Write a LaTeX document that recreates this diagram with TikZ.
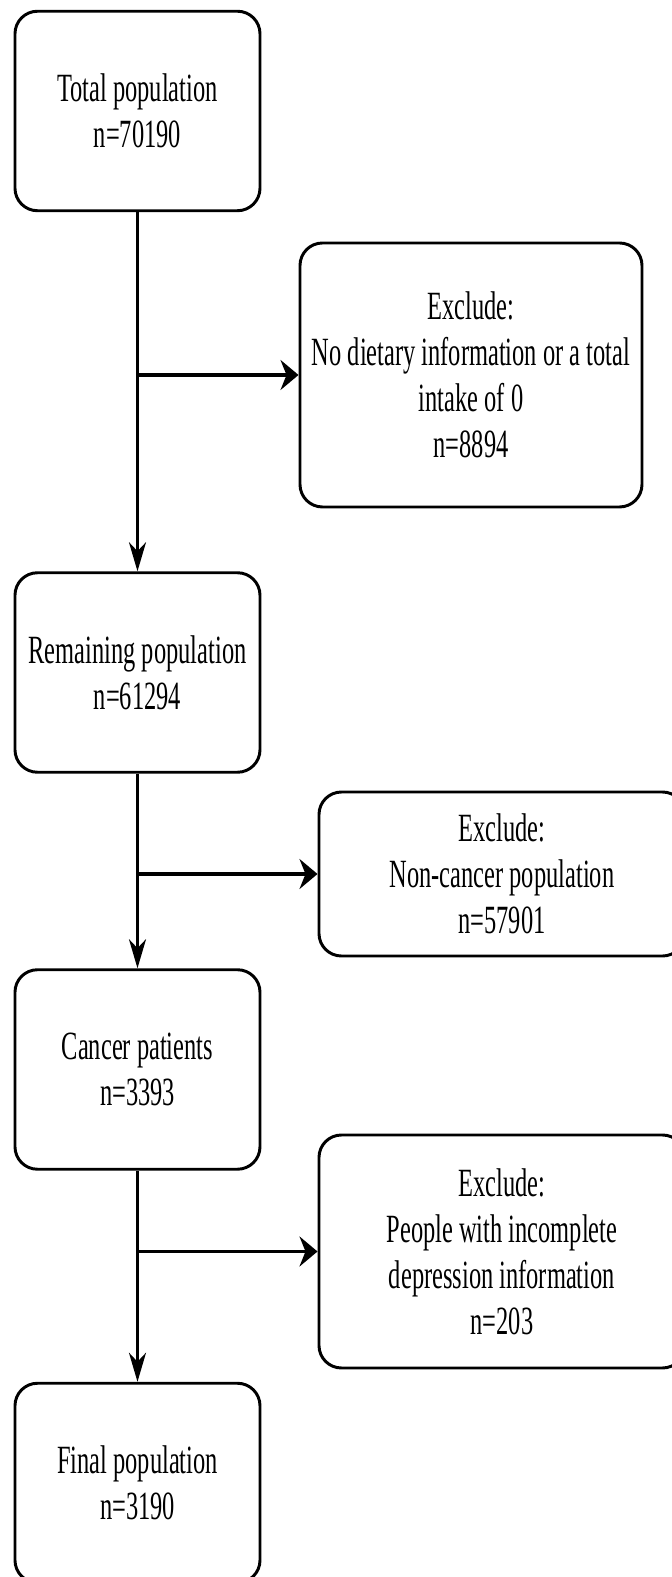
\documentclass[tikz,border=0pt]{standalone}
\usepackage{fontspec}
\setmainfont{Liberation Serif}[FakeStretch=0.61]
\usepackage{tikz}
\usetikzlibrary{arrows.meta}
\tikzset{
  flowbox/.style={draw,line width=2.8pt,rounded corners=0.75cm,align=center,
    inner sep=0pt,font=\fontsize{38pt}{43.6pt}\selectfont},
  stagebox/.style={flowbox,minimum width=8.167cm,minimum height=6.65cm},
  exclbox/.style={flowbox,minimum width=12.2cm},
  downarrow/.style={-{Stealth[length=0.97cm,width=0.57cm,inset=0.3cm]},line width=2pt},
  sidearrow/.style={-{Stealth[length=0.6cm,width=1cm,inset=0.2cm]},line width=3pt}
}

\begin{document}
\begin{tikzpicture}

    \useasboundingbox (0,0) rectangle (22.367,52.567);

    \node[stagebox] (total) at (4.583,48.867) {Total population\\n=70190};
    \node[stagebox] (remain) at (4.583,30.15) {Remaining population\\n=61294};
    \node[stagebox] (cancer) at (4.583,16.917) {Cancer patients\\n=3393};
    \node[stagebox] (final) at (4.583,3.133) {Final population\\n=3190};

    \node[exclbox,minimum width=11.4cm,minimum height=8.8cm] (excl1) at (15.7,40.067)
      {Exclude:\\No dietary information or a total\\intake of 0\\n=8894};
    \node[exclbox,minimum height=5.467cm] (excl2) at (16.733,23.433)
      {Exclude:\\Non-cancer population\\n=57901};
    \node[exclbox,minimum height=7.767cm] (excl3) at (16.733,10.85)
      {Exclude:\\People with incomplete\\depression information\\n=203};

    % main flow
    \draw[downarrow] (total) -- (remain);
    \draw[downarrow] (remain) -- (cancer);
    \draw[downarrow] (cancer) -- (final);

    % exclusions
    \draw[sidearrow] (total |- excl1) -- (excl1);
    \draw[sidearrow] (remain |- excl2) -- (excl2);
    \draw[sidearrow] (cancer |- excl3) -- (excl3);

\end{tikzpicture}
\end{document}
